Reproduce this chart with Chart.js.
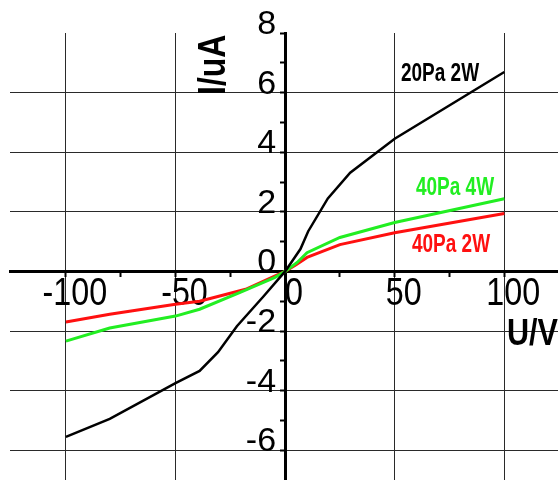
<!DOCTYPE html>
<html><head><meta charset="utf-8">
<script src="https://cdn.jsdelivr.net/npm/chart.js@4/dist/chart.umd.min.js"></script>
<style>html,body{margin:0;padding:0;background:#fff}#c{display:block}</style>
</head><body>
<canvas id="c" width="558" height="480"></canvas>
<script>
// Series labels
const seriesNames = ['20Pa 2W', '40Pa 4W', '40Pa 2W'];
const seriesColors = ['#000000', '#22ee22', '#ff1010'];

// 20Pa 2W  (U/V , I/uA)
const u20Pa2W = [-100, -80, -50, -39, -30.6, -22, -10, 0, 7, 10.5, 19.5, 29.7, 50, 100];
const i20Pa2W = [-5.55, -4.95, -3.75, -3.34, -2.71, -1.84, -0.85, 0, 0.75, 1.34, 2.45, 3.31, 4.45, 6.69];

// 40Pa 4W
const u40Pa4W = [-100, -80, -50, -39, -20.5, -4.6, 0, 5.5, 10, 25, 50, 100];
const i40Pa4W = [-2.34, -1.9, -1.5, -1.27, -0.7, -0.2, 0, 0.3, 0.63, 1.14, 1.64, 2.44];

// 40Pa 2W
const u40Pa2W = [-100, -80, -50, -39, -18, 0, 5, 10, 25, 50, 100];
const i40Pa2W = [-1.7, -1.44, -1.1, -1.0, -0.6, 0, 0.22, 0.47, 0.9, 1.3, 1.94];

// Axis ticks
const xTickValues = [-100, -75, -50, -25, 0, 25, 50, 75, 100];
const xLabelValues = [-100, -50, 0, 50, 100];
const xGridValues = [-100, -50, 50, 100];
const yTickValues = [-6, -5, -4, -3, -2, -1, 0, 1, 2, 3, 4, 5, 6, 7, 8];
const yLabelValues = [-6, -4, -2, 0, 2, 4, 6, 8];
const yGridValues = [-6, -4, -2, 2, 4, 6];
const xTitle = 'U/V';
const yTitle = 'I/uA';

const FAM = "'Liberation Sans', Arial, sans-serif";

function pts(us, is) { return us.map((u, k) => ({x: u, y: is[k]})); }

const datasets = [
  {label: seriesNames[0], data: pts(u20Pa2W, i20Pa2W), borderColor: seriesColors[0], borderWidth: 2.5},
  {label: seriesNames[1], data: pts(u40Pa4W, i40Pa4W), borderColor: seriesColors[1], borderWidth: 3},
  {label: seriesNames[2], data: pts(u40Pa2W, i40Pa2W), borderColor: seriesColors[2], borderWidth: 3}
].map(d => Object.assign(d, {showLine: true, pointRadius: 0, tension: 0, fill: false}));

const zeroPad = s => { s.paddingTop = 0; s.paddingBottom = 0; s.paddingLeft = 0; s.paddingRight = 0; };

function drawText(ctx, txt, x, y, align, sx, font, color, rot) {
  ctx.save();
  ctx.translate(x, y);
  if (rot) ctx.rotate(rot);
  ctx.scale(sx, 1);
  ctx.font = font;
  ctx.fillStyle = color;
  ctx.textAlign = align;
  ctx.textBaseline = 'alphabetic';
  ctx.fillText(txt, 0, 0);
  ctx.restore();
}

const textPlugin = {
  id: 'texts',
  beforeDatasetsDraw(chart) {
    const ctx = chart.ctx;
    const xs = chart.scales.x, ys = chart.scales.y;
    const axisY = ys.getPixelForValue(0), axisX = xs.getPixelForValue(0);
    xLabelValues.forEach(v => {
      drawText(ctx, String(v), xs.getPixelForValue(v) + 9, axisY + 34, 'center', 0.85, '38px ' + FAM, '#000');
    });
    yLabelValues.forEach(v => {
      drawText(ctx, String(v), axisX - 9, ys.getPixelForValue(v) + 1, 'right', 1, '34px ' + FAM, '#000');
    });
  },
  afterDatasetsDraw(chart) {
    const ctx = chart.ctx;
    drawText(ctx, yTitle, 225, 95, 'left', 0.82, 'bold 39px ' + FAM, '#000', -Math.PI / 2);
    drawText(ctx, xTitle, 507, 345, 'left', 0.85, 'bold 36px ' + FAM, '#000');
    const pos = [[401, 81], [416, 195], [412, 252]];
    seriesNames.forEach((n, k) => {
      drawText(ctx, n, pos[k][0], pos[k][1], 'left', 0.73, 'bold 26px ' + FAM, seriesColors[k]);
    });
  }
};

new Chart(document.getElementById('c'), {
  type: 'scatter',
  data: {datasets},
  plugins: [textPlugin],
  options: {
    responsive: false,
    animation: false,
    devicePixelRatio: 1,
    layout: {padding: {left: 10, top: 33, right: 0, bottom: 0}},
    plugins: {legend: {display: false}, tooltip: {enabled: false}},
    scales: {
      x: {
        type: 'linear',
        position: {y: 0},
        min: -125.5, max: 124.5,
        afterBuildTicks: s => { s.ticks = xTickValues.map(v => ({value: v})); },
        afterFit: zeroPad,
        ticks: {display: false, autoSkip: false},
        grid: {
          color: c => (c.tick && xGridValues.includes(c.tick.value)) ? '#2a2a2a' : 'rgba(0,0,0,0)',
          lineWidth: 1, tickColor: '#000', tickLength: 4, tickWidth: 2
        },
        border: {display: true, color: '#000', width: 3}
      },
      y: {
        type: 'linear',
        position: {x: 0},
        min: -7, max: 8,
        afterBuildTicks: s => { s.ticks = yTickValues.map(v => ({value: v})); },
        afterFit: zeroPad,
        ticks: {display: false, autoSkip: false},
        grid: {
          color: c => (c.tick && yGridValues.includes(c.tick.value)) ? '#2a2a2a' : 'rgba(0,0,0,0)',
          lineWidth: 1, tickColor: '#000', tickLength: 4, tickWidth: 2
        },
        border: {display: true, color: '#000', width: 3}
      }
    }
  }
});
</script>
</body></html>
